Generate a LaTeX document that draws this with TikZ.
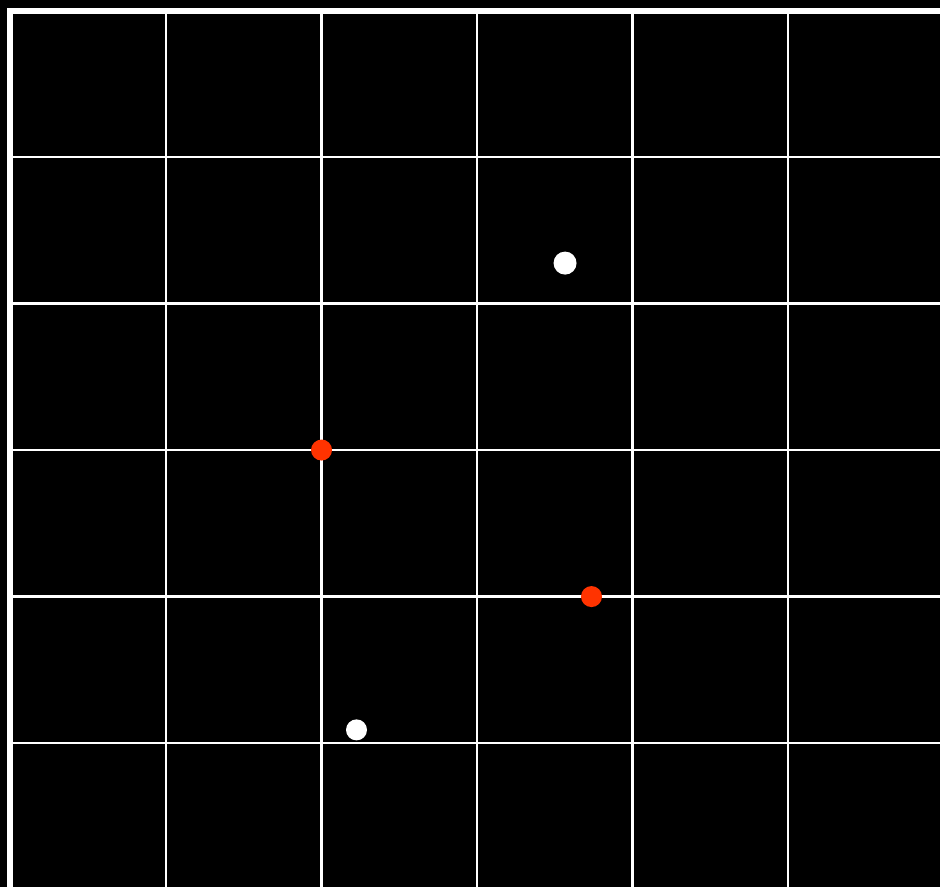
\documentclass[tikz,border=0pt]{standalone}
\usepackage{xcolor}
\usepackage{tikz}
\usetikzlibrary{positioning}
\definecolor{dotred}{HTML}{FF3300}

\begin{document}
\begin{tikzpicture}[x={(155.5pt,0pt)},y={(0pt,-146.5pt)},
 gridline/.style={white,line width=2.5pt},
 axisline/.style={white,line width=6pt,line join=miter},
 dot/.style={circle,inner sep=0pt,minimum size=21pt}]
% background
\fill[black] (-0.0675,-0.0717) rectangle (5.977,5.983);
\useasboundingbox (-0.0675,-0.0717) rectangle (5.977,5.983);
\clip (-0.0675,-0.0717) rectangle (5.977,5.983);
% grid
\foreach \x in {1,...,5}{\draw[gridline] (\x,0)--(\x,6.1);}
\foreach \y in {1,...,5}{\draw[gridline] (0,\y)--(6.1,\y);}
\draw[axisline] (0,6.1)--(0,0)--(6.1,0);
% points
\node[dot,fill=white,minimum size=23pt] (w1) at (3.566,1.724){};
\node[dot,fill=dotred] (r1) at (2,3){};
\node[dot,fill=dotred] (r2) at (3.736,4){};
\node[dot,fill=white] (w2) at (2.225,4.91){};
\end{tikzpicture}
\end{document}
